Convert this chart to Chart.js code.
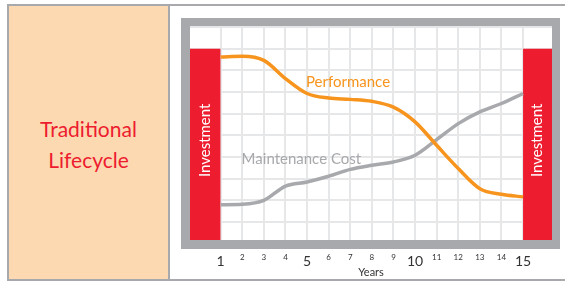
<!DOCTYPE html>
<html>
<head>
<meta charset="utf-8">
<script src="https://cdn.jsdelivr.net/npm/chart.js@4.4.0/dist/chart.umd.min.js"></script>
<style>
  body { margin: 0; width: 565px; height: 282px; overflow: hidden; background: #fff; font-family: Lato, sans-serif; }
  #moldura { position: absolute; left: 7px; top: 4px; width: 570px; height: 273px; border: 2px solid #a7a9ac; }
  #lado { position: absolute; left: 9px; top: 6px; width: 159px; height: 273px; background: #fcd9b1; border-right: 2px solid #a7a9ac; }
  #titulo { position: absolute; left: 0; top: 107px; width: 159px; text-align: center; color: #ed1c2e; font-size: 21px; line-height: 31px; }
  #grafico { position: absolute; left: 171px; top: 7px; }
</style>
</head>
<body>
<div id="moldura"></div>
<div id="lado"><div id="titulo">Traditional<br>Lifecycle</div></div>
<canvas id="grafico" width="392" height="272"></canvas>

<script>
// dados
const anos = [1, 2, 3, 4, 5, 6, 7, 8, 9, 10, 11, 12, 13, 14, 15];
const anosGrandes = [1, 5, 10, 15];
const desempenho = [8.62, 8.65, 8.46, 7.62, 6.93, 6.72, 6.66, 6.57, 6.30, 5.62, 4.54, 3.47, 2.54, 2.28, 2.16];
const manutencao = [1.80, 1.82, 2.00, 2.66, 2.85, 3.11, 3.43, 3.62, 3.77, 4.08, 4.80, 5.54, 6.08, 6.47, 6.93];
const linhasY = [1, 2, 3, 4, 5, 6, 7, 8, 9, 10];

const xMin = -0.42, xMax = 16.34;
const yMin = 0.17, yMax = 10;

// investimento: inicio, fim, altura
const investInicio = [xMin, 15];
const investFim = [1, xMax];
const investAltura = [9, 9];

const vermelho = '#ed1c2e';
const laranja = '#f7941d';
const cinza = '#a7a9ac';

const pontos = (ys) => anos.map((a, i) => ({ x: a, y: ys[i] }));

const barras = investInicio.map((ini, i) => ({
    label: 'Investment',
    data: [{ x: ini, y: investAltura[i] }, { x: investFim[i], y: investAltura[i] }],
    fill: 'start',
    backgroundColor: vermelho,
    borderWidth: 0,
    pointRadius: 0,
    order: 3
}));

const fundo = {
    id: 'fundo',
    beforeDraw(chart) {
        const { ctx, chartArea: a } = chart;
        ctx.save();
        ctx.fillStyle = cinza;
        ctx.fillRect(a.left - 9, a.top - 9, a.width + 17, a.height + 18);
        ctx.fillStyle = '#fff';
        ctx.fillRect(a.left, a.top, a.width, a.height);
        ctx.restore();
    }
};

const textos = {
    id: 'textos',
    afterDatasetsDraw(chart) {
        const { ctx, scales: { x, y } } = chart;
        ctx.save();
        ctx.font = '15px Lato';

        // rótulos "Investment" dentro das barras
        ctx.fillStyle = '#fff';
        ctx.textAlign = 'center';
        ctx.textBaseline = 'middle';
        investInicio.forEach((ini, i) => {
            const cx = (x.getPixelForValue(ini) + x.getPixelForValue(investFim[i])) / 2;
            const cy = (y.getPixelForValue(investAltura[i]) + y.bottom) / 2 - 4;
            ctx.save();
            ctx.translate(cx, cy);
            ctx.rotate(-Math.PI / 2);
            ctx.fillText('Investment', 0, 0);
            ctx.restore();
        });

        // nomes das séries
        ctx.textAlign = 'left';
        ctx.textBaseline = 'alphabetic';
        ctx.fillStyle = laranja;
        ctx.fillText('Performance', x.getPixelForValue(4.95), y.getPixelForValue(7.23));
        ctx.fillStyle = cinza;
        ctx.fillText('Maintenance Cost', x.getPixelForValue(1.97), y.getPixelForValue(3.70));
        ctx.restore();
    }
};

const ctx = document.getElementById('grafico');

new Chart(ctx, {
    type: 'line',
    data: {
        datasets: [
            {
                label: 'Performance',
                data: pontos(desempenho),
                borderColor: laranja,
                borderWidth: 3.5,
                pointRadius: 0,
                cubicInterpolationMode: 'monotone',
                order: 1
            },
            {
                label: 'Maintenance Cost',
                data: pontos(manutencao),
                borderColor: cinza,
                borderWidth: 3.5,
                pointRadius: 0,
                cubicInterpolationMode: 'monotone',
                order: 2
            },
            ...barras
        ]
    },
    options: {
        responsive: false,
        animation: false,
        layout: { padding: { left: 19, right: 11, top: 20, bottom: 0 } },
        plugins: { legend: { display: false }, tooltip: { enabled: false } },
        scales: {
            x: {
                type: 'linear',
                min: xMin,
                max: xMax,
                afterBuildTicks: s => { s.ticks = anos.map(v => ({ value: v })); },
                afterFit: s => { s.height = 39; },
                grid: { color: '#e6e7e8', lineWidth: 2, drawTicks: false },
                border: { display: false },
                ticks: {
                    autoSkip: false,
                    maxRotation: 0,
                    padding: 13,
                    color: '#333',
                    font: c => ({ family: 'Lato', size: anosGrandes.includes(c.tick && c.tick.value) ? 14 : 8 }),
                    callback: v => v
                },
                title: {
                    display: true,
                    text: 'Years',
                    color: '#333',
                    font: { family: 'Lato', size: 11 },
                    padding: { top: 0, bottom: 0 }
                }
            },
            y: {
                min: yMin,
                max: yMax,
                afterBuildTicks: s => { s.ticks = linhasY.map(v => ({ value: v })); },
                afterFit: s => { s.width = 0; },
                grid: { color: '#e6e7e8', lineWidth: 2, drawTicks: false },
                border: { display: false },
                ticks: { display: false }
            }
        }
    },
    plugins: [fundo, textos]
});
</script>
</body>
</html>
